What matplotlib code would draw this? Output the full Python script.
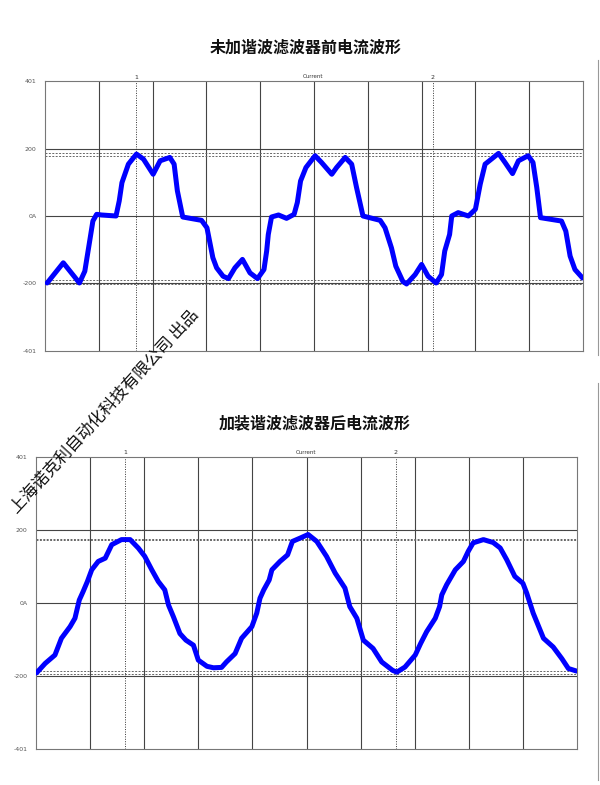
import numpy as np
import matplotlib
matplotlib.use("Agg")
from matplotlib import pyplot as plt
from matplotlib.lines import Line2D

plt.rcParams['font.family'] = ['Noto Sans CJK SC', 'DejaVu Sans']

# waveform before filter (time in scope divisions, current in A)
t_before = [0.04, 0.34, 0.64, 0.74, 0.84, 0.89, 0.96, 1.05, 1.32, 1.38, 1.43, 1.55, 1.70,
            1.83, 2.01, 2.14, 2.32, 2.40, 2.46, 2.56, 2.91, 3.01, 3.12, 3.19, 3.31,
            3.41, 3.53, 3.67, 3.81, 3.95, 4.07, 4.12, 4.15, 4.21, 4.34, 4.49, 4.63,
            4.69, 4.75, 4.85, 5.02, 5.14, 5.33, 5.42, 5.58, 5.70, 5.79, 5.91, 6.23,
            6.32, 6.44, 6.52, 6.65, 6.72, 6.88, 7.00, 7.12, 7.27, 7.37, 7.43, 7.52,
            7.56, 7.68, 7.87, 8.00, 8.09, 8.18, 8.43, 8.55, 8.69, 8.80, 8.98, 9.07,
            9.14, 9.21, 9.60, 9.68, 9.76, 9.85, 9.99]
i_before = [-199, -139, -199, -164, -65, -15, 5, 3, 0, 45, 99, 154, 184,
            169, 124, 164, 174, 154, 75, -3, -13, -35, -124, -154, -179,
            -186, -154, -129, -169, -186, -159, -104, -55, -3, 3, -7, 5,
            40, 104, 144, 179, 159, 124, 144, 174, 154, 85, 0, -13,
            -35, -95, -149, -194, -202, -174, -144, -179, -199, -174, -104, -55,
            0, 10, 0, 20, 95, 154, 186, 159, 126, 164, 179, 159,
            85, -5, -15, -45, -119, -159, -184]

# waveform after filter
t_after = [0.01, 0.17, 0.35, 0.47, 0.63, 0.72, 0.80, 0.87, 0.95, 1.03, 1.15, 1.28, 1.40,
           1.58, 1.74, 1.89, 2.01, 2.14, 2.26, 2.38, 2.45, 2.54, 2.66, 2.77, 2.91,
           3.00, 3.16, 3.28, 3.43, 3.52, 3.68, 3.80, 3.99, 4.08, 4.14, 4.21, 4.31,
           4.36, 4.51, 4.65, 4.74, 4.88, 5.03, 5.19, 5.37, 5.53, 5.71, 5.80, 5.93,
           6.05, 6.23, 6.39, 6.59, 6.67, 6.82, 7.01, 7.11, 7.22, 7.38, 7.46, 7.50,
           7.59, 7.75, 7.90, 7.99, 8.08, 8.27, 8.45, 8.58, 8.70, 8.85, 9.00, 9.07,
           9.19, 9.38, 9.56, 9.72, 9.84, 9.99]
i_after = [-192, -166, -143, -97, -65, -42, 8, 31, 59, 91, 114, 123, 160,
           174, 174, 151, 128, 91, 59, 36, -6, -38, -84, -102, -116,
           -157, -174, -178, -177, -162, -139, -97, -65, -28, 13, 36, 63,
           91, 114, 132, 169, 178, 188, 169, 128, 82, 41, -10, -42,
           -102, -125, -162, -185, -190, -176, -143, -111, -79, -42, -10, 22,
           50, 91, 114, 142, 165, 174, 166, 151, 119, 73, 54, 27,
           -28, -97, -121, -153, -180, -187]

titles = ["未加谐波滤波器前电流波形", "加装谐波滤波器后电流波形"]
y_ticks = [-401, -200, 0, 200, 401]
y_tick_labels = ["-401", "-200", "0A", "200", "401"]
cursors_before = [1.69, 7.21]
cursors_after = [1.65, 6.65]
levels_before = [186, 177, -190, -201]
levels_after = [177, 172, -187, -196]
watermark = "上海诺克利自动化科技有限公司 出品"

fig = plt.figure(figsize=(6, 7.85), dpi=100)

panels = [
    ([0.075, 0.5529, 0.8967, 0.3439], t_before, i_before, cursors_before, levels_before, 0.940),
    ([0.060, 0.0459, 0.9017, 0.3720], t_after, i_after, cursors_after, levels_after, 0.461),
]
title_x = [0.51, 0.525]

for k, (rect, t, cur, cursors, levels, ty) in enumerate(panels):
    ax = fig.add_axes(rect)
    ax.set_xlim(0, 10)
    ax.set_ylim(-401, 401)
    for x in range(1, 10):
        ax.axvline(x, color="#444444", lw=0.8, zorder=1)
    for y in [-200, 0, 200]:
        ax.axhline(y, color="#444444", lw=0.8, zorder=1)
    for lv in levels:
        ax.axhline(lv, color="#666666", lw=0.7, ls=(0, (2, 1.5)), zorder=1)
    for n, c in enumerate(cursors):
        ax.axvline(c, color="#333333", lw=0.7, ls=(0, (1, 1.5)), zorder=1)
        ax.text(c, 1.005, str(n + 1), transform=ax.get_xaxis_transform(),
                ha="center", va="bottom", fontsize=4.5, color="#333333", family="DejaVu Sans")
    ax.plot(t, cur, color="#0000ff", lw=3.6, solid_joinstyle="round",
            solid_capstyle="round", zorder=3)
    ax.text(0.48, 1.008, "Current", transform=ax.transAxes, fontsize=4,
            color="#333333", ha="left", va="bottom", family="DejaVu Sans")
    ax.set_xticks([])
    ax.set_yticks(y_ticks)
    ax.set_yticklabels(y_tick_labels, family="DejaVu Sans")
    ax.tick_params(axis="y", length=0, pad=6, labelsize=4.5, labelcolor="#555555")
    for s in ax.spines.values():
        s.set_color("#777777")
        s.set_linewidth(0.8)
    fig.text(title_x[k], ty, titles[k], ha="center", va="center", fontsize=11.5,
             fontweight="bold", color="#111111")

# frame edges on the right of the screenshot
fig.add_artist(Line2D([0.996, 0.996], [1 - 60 / 785, 1 - 355 / 785], color="#999999", lw=0.8))
fig.add_artist(Line2D([0.996, 0.996], [1 - 383 / 785, 1 - 780 / 785], color="#999999", lw=0.8))

fig.text(105 / 600, 1 - 411 / 785, watermark, rotation=47.5, ha="center", va="center",
         fontsize=12, color="#111111", rotation_mode="anchor")

fig.savefig("out.png", dpi=100)
